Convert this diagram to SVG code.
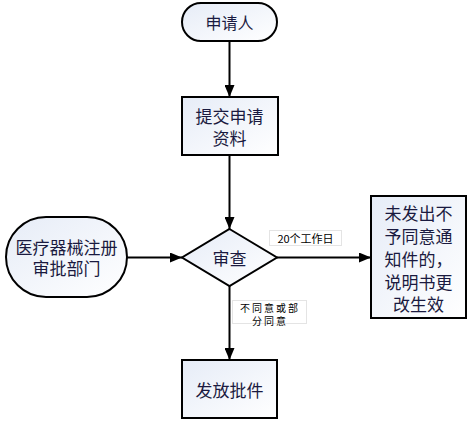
<svg xmlns="http://www.w3.org/2000/svg" width="468" height="421" viewBox="0 0 468 421">
<defs>
<linearGradient id="g" x1="0" y1="0" x2="1" y2="1">
<stop offset="0" stop-color="#e6ecf7"/>
<stop offset="1" stop-color="#ffffff"/>
</linearGradient>
<marker id="arr" viewBox="0 0 12 10" refX="12" refY="5" markerWidth="12" markerHeight="10" markerUnits="userSpaceOnUse" orient="auto">
<path d="M0,0 L12,5 L0,10 z" fill="#000"/>
</marker>
<style>
.shape{fill:url(#g);stroke:#000;stroke-width:2}
.t{font-family:"Noto Sans CJK SC","Liberation Sans",sans-serif;font-size:17px;fill:#1a1a40;text-anchor:middle;dominant-baseline:central}
.lbl{font-family:"Noto Sans CJK SC","Liberation Sans",sans-serif;font-size:10px;fill:#000;text-anchor:middle;dominant-baseline:central}
.lb{fill:#fff;stroke:#e4e4e4;stroke-width:1}
.c{stroke:#000;stroke-width:2;fill:none;marker-end:url(#arr)}
</style>
</defs>
<g id="connectors">
<line class="c" x1="229.5" y1="41" x2="229.5" y2="97"/>
<line class="c" x1="229.5" y1="155" x2="229.5" y2="229"/>
<line class="c" x1="127" y1="257.5" x2="182" y2="257.5"/>
<line class="c" x1="277" y1="257.5" x2="371" y2="257.5"/>
<line class="c" x1="229.5" y1="286" x2="229.5" y2="360"/>
</g>
<g id="label-20days">
<rect class="lb" x="269.5" y="230.5" width="72" height="15"/>
<text class="lbl" x="305.5" y="238" style="font-size:11px">20个工作日</text>
</g>
<g id="label-disagree">
<rect class="lb" x="232.5" y="300.5" width="74" height="23"/>
<text class="lbl" x="270" y="307.5" style="letter-spacing:2px">不同意或部</text>
<text class="lbl" x="270" y="320" style="letter-spacing:2px">分同意</text>
</g>
<g id="node-applicant">
<rect class="shape" x="182" y="3" width="95" height="38" rx="19"/>
<text class="t" x="229.5" y="22" style="font-size:16px">申请人</text>
</g>
<g id="node-submit">
<rect class="shape" x="182" y="97" width="96" height="58"/>
<text class="t" x="229.5" y="115">提交申请</text>
<text class="t" x="229.5" y="137">资料</text>
</g>
<g id="node-review">
<polygon class="shape" points="229.5,229 277,257.5 229.5,286 182,257.5"/>
<text class="t" x="229.5" y="257">审查</text>
</g>
<g id="node-dept">
<rect class="shape" x="6" y="217" width="121" height="80" rx="40"/>
<text class="t" x="66.5" y="246">医疗器械注册</text>
<text class="t" x="66.5" y="267">审批部门</text>
</g>
<g id="node-notice">
<rect class="shape" x="371" y="196" width="95" height="122"/>
<text class="t" x="418.5" y="212">未发出不</text>
<text class="t" x="418.5" y="235">予同意通</text>
<text class="t" x="418.5" y="258">知件的，</text>
<text class="t" x="418.5" y="281">说明书更</text>
<text class="t" x="418.5" y="303">改生效</text>
</g>
<g id="node-issue">
<rect class="shape" x="182" y="360" width="95" height="58"/>
<text class="t" x="229.5" y="389">发放批件</text>
</g>
</svg>
